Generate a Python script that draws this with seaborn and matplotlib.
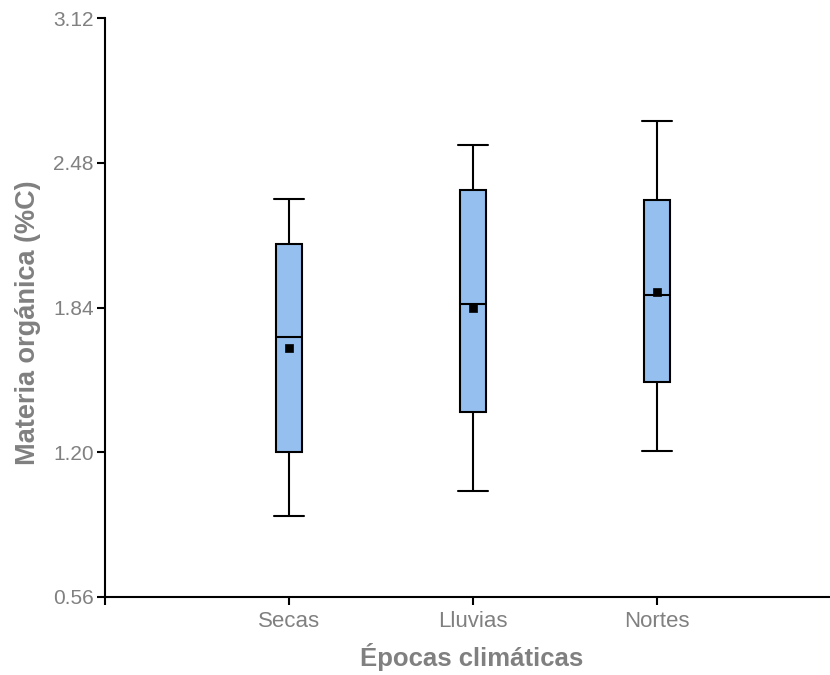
import matplotlib
matplotlib.use("Agg")
import matplotlib.pyplot as plt
import seaborn as sns
import pandas as pd

categories = ["Secas", "Lluvias", "Nortes"]
# five-number summaries: min, Q1, median, Q3, max
secas = [0.92, 1.20, 1.71, 2.12, 2.32]
lluvias = [1.03, 1.38, 1.855, 2.36, 2.56]
nortes = [1.205, 1.51, 1.895, 2.315, 2.665]
means = [1.66, 1.84, 1.91]
yticks = [0.56, 1.20, 1.84, 2.48, 3.12]

rows = []
for cat, vals in zip(categories, [secas, lluvias, nortes]):
    for v in vals:
        rows.append({"cat": cat, "val": v})
df = pd.DataFrame(rows)
dfm = pd.DataFrame({"cat": categories, "val": means})

sns.set_theme(style="white")
plt.rcParams["font.family"] = ["Liberation Sans", "DejaVu Sans"]

fig = plt.figure(figsize=(8.3, 6.75), dpi=100)
ax = fig.add_axes([105/830, 1-597/675, 1-105/830, (597-18)/675])

sns.boxplot(data=df, x="cat", y="val", order=categories, ax=ax,
            whis=(0, 100), width=0.145, color="#94BFEF", saturation=1,
            linecolor="black", linewidth=1.5, showfliers=False,
            capwidths=0.16)
sns.scatterplot(data=dfm, x="cat", y="val", ax=ax, marker="s", s=36,
                color="black", edgecolor="black", zorder=5, legend=False)

ax.set_xlim(-1, 2.94)
ax.set_ylim(0.56, 3.12)
ax.set_yticks(yticks)
ax.set_yticklabels([f"{t:.2f}" for t in yticks])
ax.set_xticks([-1, 0, 1, 2])
ax.set_xticklabels([""] + categories)

for s in ["top", "right"]:
    ax.spines[s].set_visible(False)
for s in ["left", "bottom"]:
    ax.spines[s].set_color("black")
    ax.spines[s].set_linewidth(1.5)

ax.tick_params(axis="both", which="both", direction="out", length=6,
               width=1.5, color="black", labelcolor="#808080",
               left=True, bottom=True, pad=2)
ax.tick_params(axis="y", labelsize=15)
ax.tick_params(axis="x", labelsize=16, pad=4)

ax.set_xlabel("Épocas climáticas", fontsize=18.5, fontweight="bold",
              color="#808080", va="center")
ax.set_ylabel("Materia orgánica (%C)", fontsize=19.5, fontweight="bold",
              color="#808080", va="center")
ax.xaxis.set_label_coords((472 - 105) / 725, -(657 - 597) / 579)
ax.yaxis.set_label_coords(-(105 - 28) / 725, (597 - 323) / 579)

fig.savefig("out.png", dpi=100)
